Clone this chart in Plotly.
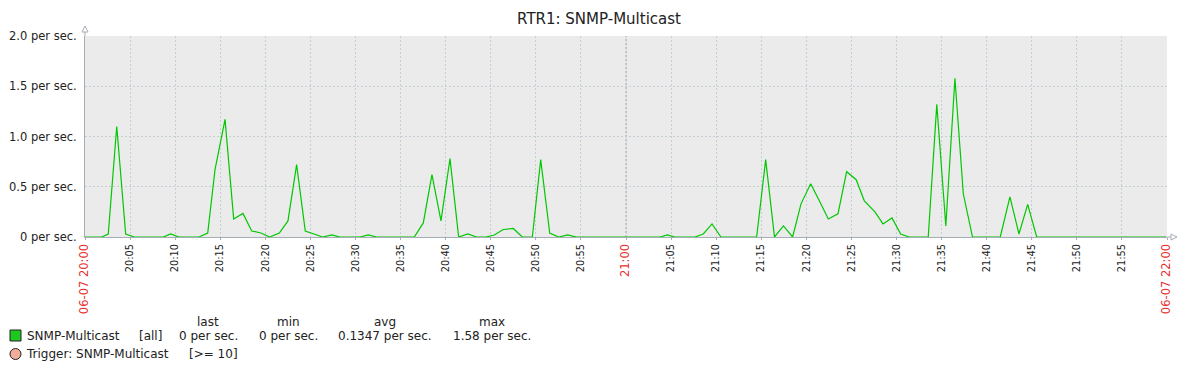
import plotly.graph_objects as go
import pandas as pd

# ---------------- data ----------------
title = "RTR1: SNMP-Multicast"
series_name = "SNMP-Multicast"
start_time = "2024-06-07 20:00"
end_time = "2024-06-07 22:00"

# sample times, minutes after 20:00
minutes = [0, 1.85, 2.58, 3.52, 4.51, 5.47, 8.68, 9.50, 10.42, 12.64, 13.61, 14.42, 15.53,
           16.49, 17.52, 18.49, 19.52, 20.48, 21.55, 22.51, 23.47, 24.43, 25.40, 26.36,
           27.36, 28.28, 30.50, 31.42, 32.35, 36.52, 37.52, 38.48, 39.48, 40.48, 41.44,
           42.44, 43.44, 44.47, 45.39, 46.39, 47.50, 48.50, 49.61, 50.54, 51.54, 52.53,
           53.53, 54.49, 63.77, 64.58, 65.43, 67.65, 68.57, 69.54, 70.53, 74.49, 75.49,
           76.47, 77.46, 78.48, 79.41, 80.48, 81.44, 82.44, 83.51, 84.47, 85.53, 86.43,
           87.61, 88.50, 89.50, 90.46, 91.40, 93.52, 94.47, 95.47, 96.48, 97.41, 98.43,
           101.51, 102.58, 103.58, 104.55, 105.55, 119.9]
values = [0, 0, 0.03, 1.10, 0.03, 0, 0, 0.03, 0, 0, 0.04, 0.67, 1.17,
          0.18, 0.235, 0.06, 0.04, 0, 0.04, 0.16, 0.72, 0.06, 0.03, 0,
          0.02, 0, 0, 0.02, 0, 0, 0.14, 0.62, 0.16, 0.78, 0,
          0.03, 0, 0, 0.02, 0.075, 0.085, 0, 0, 0.77, 0.04, 0,
          0.02, 0, 0, 0.02, 0, 0, 0.03, 0.13, 0, 0, 0.77,
          0, 0.11, 0, 0.33, 0.53, 0.36, 0.18, 0.23, 0.65, 0.57, 0.36,
          0.25, 0.13, 0.19, 0.03, 0, 0, 1.32, 0.11, 1.58, 0.43, 0,
          0, 0.40, 0.03, 0.325, 0, 0]

y_tick_vals = [0, 0.5, 1.0, 1.5, 2.0]
y_tick_text = ["0 per sec.", "0.5 per sec.", "1.0 per sec.", "1.5 per sec.", "2.0 per sec."]

x_tick_minutes = list(range(0, 121, 5))
x_tick_labels = ["06-07 20:00", "20:05", "20:10", "20:15", "20:20", "20:25", "20:30", "20:35",
                 "20:40", "20:45", "20:50", "20:55", "21:00", "21:05", "21:10", "21:15",
                 "21:20", "21:25", "21:30", "21:35", "21:40", "21:45", "21:50", "21:55",
                 "06-07 22:00"]
red_labels = ["06-07 20:00", "21:00", "06-07 22:00"]

stat_headers = ["last", "min", "avg", "max"]
stat_values = ["0 per sec.", "0 per sec.", "0.1347 per sec.", "1.58 per sec."]
series_scope = "[all]"
trigger_name = "Trigger: SNMP-Multicast"
trigger_cond = "[>= 10]"

# ---------------- figure ----------------
W, H = 1198, 368
L, R, T, B = 85, 1167, 36, 237
FONT = "DejaVu Sans"
TXT = "#222222"
GRID = "#c5ced5"

base = pd.Timestamp(start_time)
xs = [base + pd.Timedelta(minutes=m) for m in minutes]
tickvals = [base + pd.Timedelta(minutes=m) for m in x_tick_minutes]
ticktext = []
for lab in x_tick_labels:
    if lab in red_labels:
        ticktext.append('<span style="color:#e8312f;font-size:11.5px">%s</span>' % lab)
    else:
        ticktext.append(lab)


def px(x):
    return (x - L) / (R - L)


def py(y):
    return (B - y) / (B - T)


fig = go.Figure()
fig.add_trace(go.Scatter(x=xs, y=values, mode="lines",
                         line=dict(color="#00c800", width=1.2),
                         hoverinfo="skip", showlegend=False))

fig.update_layout(
    width=W, height=H,
    margin=dict(l=L, r=W - R, t=T, b=H - B, pad=0, autoexpand=False),
    paper_bgcolor="white", plot_bgcolor="#ebebeb",
    font=dict(family=FONT, size=12, color=TXT),
    title=dict(text=title, x=0.5, xanchor="center", y=1 - 19 / H, yanchor="middle",
               font=dict(family=FONT, size=15, color=TXT)),
    showlegend=False,
)
fig.update_xaxes(range=[pd.Timestamp(start_time), pd.Timestamp(end_time)],
                 tickvals=tickvals, ticktext=ticktext, tickangle=-90,
                 tickfont=dict(family=FONT, size=9.8, color=TXT),
                 showgrid=True, gridcolor=GRID, griddash="2px,2px", gridwidth=1,
                 showline=True, linecolor="#a6aeb5", linewidth=1,
                 ticks="outside", ticklen=2, tickcolor="#a6aeb5",
                 zeroline=False, fixedrange=True, automargin=False)
fig.update_yaxes(range=[0, 2.0], tickvals=y_tick_vals, ticktext=y_tick_text,
                 tickfont=dict(family=FONT, size=11.5, color=TXT),
                 showgrid=True, gridcolor=GRID, griddash="2px,2px", gridwidth=1,
                 showline=True, linecolor="#a6aeb5", linewidth=1,
                 ticks="outside", ticklen=5, tickcolor="rgba(0,0,0,0)",
                 zeroline=False, fixedrange=True, automargin=False)

# darker grid line at 21:00
fig.add_shape(type="line", xref="x", yref="paper",
              x0=base + pd.Timedelta(minutes=60), x1=base + pd.Timedelta(minutes=60),
              y0=0, y1=1, line=dict(color="#98a2ab", width=1, dash="2px,2px"), layer="below")

# axis arrows
fig.add_shape(type="line", xref="paper", yref="paper", x0=0, x1=0, y0=1, y1=py(30),
              line=dict(color="#a6aeb5", width=1))
fig.add_shape(type="path", xref="paper", yref="paper",
              path="M %f %f L %f %f L %f %f Z" % (px(82), py(32), px(88), py(32), px(85), py(26)),
              line=dict(color="#a6aeb5", width=1), fillcolor="white")
fig.add_shape(type="line", xref="paper", yref="paper", x0=1, x1=px(1171), y0=0, y1=0,
              line=dict(color="#a6aeb5", width=1))
fig.add_shape(type="path", xref="paper", yref="paper",
              path="M %f %f L %f %f L %f %f Z" % (px(1171), py(234), px(1171), py(240), px(1177), py(237)),
              line=dict(color="#a6aeb5", width=1), fillcolor="white")

# legend block
stat_centers = [208, 288, 385, 492]
for hdr, cx in zip(stat_headers, stat_centers):
    fig.add_annotation(xref="paper", yref="paper", x=px(cx), y=py(322), text=hdr,
                       showarrow=False, xanchor="center", yanchor="middle",
                       font=dict(family=FONT, size=12, color=TXT))
for val, cx in zip(stat_values, stat_centers):
    fig.add_annotation(xref="paper", yref="paper", x=px(cx), y=py(336), text=val,
                       showarrow=False, xanchor="center", yanchor="middle",
                       font=dict(family=FONT, size=12, color=TXT))
fig.add_shape(type="rect", xref="paper", yref="paper",
              x0=px(10), x1=px(21), y0=py(341), y1=py(330),
              fillcolor="#1ec81e", line=dict(color="#222222", width=1))
fig.add_annotation(xref="paper", yref="paper", x=px(25), y=py(336), text=series_name,
                   showarrow=False, xanchor="left", yanchor="middle",
                   font=dict(family=FONT, size=12, color=TXT))
fig.add_annotation(xref="paper", yref="paper", x=px(137), y=py(336), text=series_scope,
                   showarrow=False, xanchor="left", yanchor="middle",
                   font=dict(family=FONT, size=12, color=TXT))
fig.add_shape(type="circle", xref="paper", yref="paper",
              x0=px(10), x1=px(21), y0=py(359.5), y1=py(348.5),
              fillcolor="#f0ad9c", line=dict(color="#222222", width=1))
fig.add_annotation(xref="paper", yref="paper", x=px(24), y=py(354), text=trigger_name,
                   showarrow=False, xanchor="left", yanchor="middle",
                   font=dict(family=FONT, size=12, color=TXT))
fig.add_annotation(xref="paper", yref="paper", x=px(187), y=py(354), text=trigger_cond,
                   showarrow=False, xanchor="left", yanchor="middle",
                   font=dict(family=FONT, size=12, color=TXT))

fig.write_html("out.html", config={"displayModeBar": False})
